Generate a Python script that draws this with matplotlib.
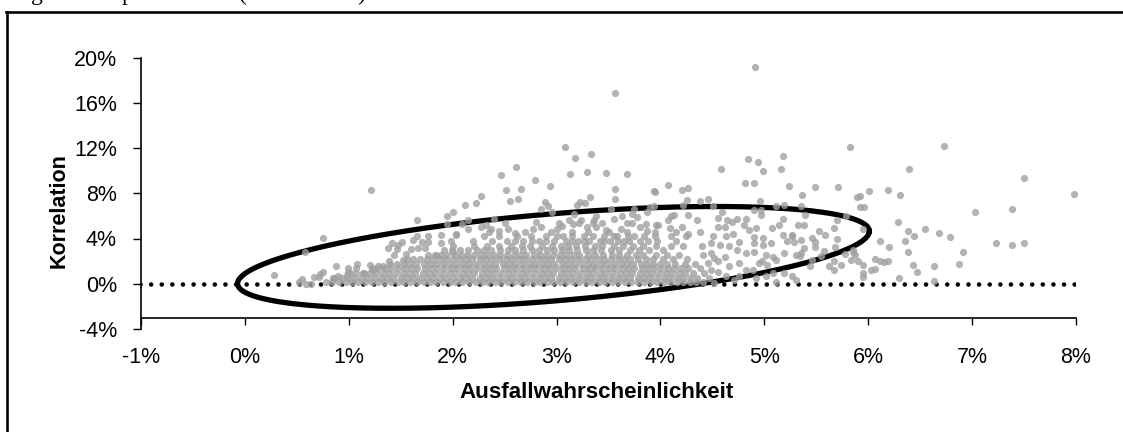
import matplotlib
matplotlib.use("Agg")
import matplotlib.pyplot as plt
import numpy as np

plt.rcParams['font.family'] = ['Liberation Sans', 'DejaVu Sans']

x_ticks = [-1, 0, 1, 2, 3, 4, 5, 6, 7, 8]
y_ticks = [-4, 0, 4, 8, 12, 16, 20]

# single points (percent)
pd_x = [4.91, 3.56, 3.08, 3.18, 3.33, 2.61, 2.47, 2.79, 2.94, 3.13, 3.29, 3.48, 3.68, 4.58, 4.84, 4.94, 5.18, 4.99, 5.16, 4.81,
        4.90, 5.24, 4.07, 4.27, 4.21, 3.94, 3.56, 2.66, 2.51, 1.21, 2.27, 2.22, 2.12, 2.00, 1.95, 2.55, 2.63, 2.89, 2.92, 2.85,
        3.32, 3.27, 3.23, 3.20, 3.56, 3.95, 3.94, 3.90, 3.52, 3.75, 3.17, 2.96, 2.40, 2.15, 2.09, 1.95, 2.80, 2.15, 2.03, 2.27,
        2.32, 2.37, 2.45, 2.53, 2.60, 2.77, 2.85, 3.00, 3.05, 3.12, 3.16, 3.24, 3.36, 3.38, 3.55, 3.63, 3.73, 3.77, 3.87, 3.86,
        3.96, 3.35, 3.29, 3.38, 3.48, 3.62, 3.73, 3.80, 3.87, 5.82, 5.36, 5.49, 5.71, 5.89, 4.46, 4.38, 4.26, 4.22, 4.51, 4.96,
        4.97, 4.90, 4.97, 5.11, 5.19, 5.35, 5.39, 4.59, 4.55, 4.64, 4.69, 4.74, 4.82, 4.35, 4.27, 4.13, 4.07, 4.10, 3.98, 4.09,
        4.21, 4.27, 4.38, 4.51, 4.55, 4.62, 4.63, 4.70, 4.80, 4.85, 4.92, 5.07, 5.14, 5.18, 5.32, 5.38, 5.18, 5.27, 5.22, 5.29,
        5.35, 5.46, 5.53, 5.58, 5.67, 5.70, 5.70, 5.38, 5.49, 5.57, 5.68, 5.78, 5.85, 5.67, 5.74, 5.62, 5.67, 4.90, 4.99, 4.90,
        4.99, 5.06, 4.90, 5.02, 5.08, 4.98, 5.11, 4.95, 5.03, 5.19, 5.30, 5.34, 5.44, 5.19, 5.27, 5.30, 5.08, 5.02, 5.11, 4.89,
        4.76, 4.66, 4.76, 4.57, 4.49, 4.40, 4.76, 4.66, 4.55, 4.74, 4.82, 4.62, 4.52, 4.63, 4.52, 4.71, 4.92, 4.82, 4.41, 4.49,
        4.46, 4.49, 4.55, 6.73, 6.39, 7.50, 7.98, 6.01, 6.19, 6.31, 5.92, 5.92, 5.96, 5.79, 5.95, 6.29, 6.38, 6.55, 6.44, 6.68,
        6.79, 6.11, 6.20, 6.35, 6.38, 6.91, 7.03, 7.38, 7.23, 7.38, 7.50, 6.87, 6.63, 6.43, 6.47, 6.30, 6.63, 6.07, 6.11, 6.15,
        6.19, 6.03, 6.07, 5.95, 5.95, 5.95, 5.83, 5.90, 5.87, 5.85, 5.35, 5.46, 5.55, 5.49, 5.27, 0.28, 0.75, 0.58, 1.66, 1.42,
        1.38, 1.46, 1.51, 1.47, 1.62, 1.66, 1.76, 1.70, 1.76, 1.89, 2.03, 1.98, 1.89, 1.60, 1.67, 1.73, 1.84, 2.00, 1.55, 1.44,
        1.39, 1.52, 0.88, 1.08, 1.20, 0.99, 0.75, 0.99, 1.28, 0.72, 0.67, 0.71, 0.55, 0.52, 0.59, 0.64, 0.85, 0.90, 0.98, 1.07,
        1.15, 1.23, 1.33]
corr_y = [19.18, 16.9, 12.1, 11.1, 11.5, 10.3, 9.65, 9.2, 8.6, 9.7, 9.85, 9.8, 9.7, 10.1, 11.0, 10.75, 11.3, 10.0, 10.1, 8.95,
          8.95, 8.6, 8.7, 8.5, 8.3, 8.2, 8.4, 8.4, 8.3, 8.3, 7.77, 7.15, 7.0, 6.3, 6.0, 7.3, 7.5, 7.2, 6.9, 6.6,
          7.65, 7.15, 7.2, 7.0, 7.5, 8.1, 6.9, 6.75, 6.65, 6.65, 6.2, 6.3, 5.75, 5.6, 5.3, 5.25, 5.45, 4.85, 4.4, 5.0,
          5.2, 4.85, 4.65, 4.85, 4.5, 4.8, 5.0, 4.8, 5.1, 5.6, 5.3, 5.65, 5.65, 6.0, 5.7, 6.0, 6.2, 5.9, 6.3, 5.3,
          5.2, 5.35, 5.0, 5.0, 4.77, 4.8, 5.35, 5.0, 4.7, 12.05, 7.85, 8.55, 8.55, 7.7, 7.47, 7.3, 7.4, 7.0, 6.85, 7.3,
          6.5, 6.5, 6.05, 6.85, 7.0, 6.9, 6.05, 6.3, 5.8, 5.67, 5.5, 5.7, 5.7, 5.6, 6.1, 6.05, 5.65, 5.95, 5.2, 4.9,
          5.05, 4.4, 4.6, 4.25, 5.05, 5.0, 4.2, 4.4, 5.15, 4.77, 4.9, 4.97, 5.2, 5.7, 5.2, 5.2, 4.3, 4.3, 3.8, 3.73,
          3.9, 4.03, 4.67, 4.3, 4.97, 5.6, 3.95, 3.2, 3.23, 2.93, 3.23, 2.65, 2.77, 1.97, 1.68, 1.53, 1.23, 4.17, 4.03, 3.6,
          3.43, 3.6, 2.85, 2.55, 2.4, 1.97, 2.1, 1.82, 1.67, 2.76, 2.55, 2.47, 1.53, 0.94, 0.65, 0.35, 0.94, 0.65, 0.12, 1.23,
          0.65, 3.3, 3.73, 3.43, 3.6, 3.3, 1.85, 1.53, 1.97, 3.0, 2.7, 2.4, 2.27, 0.65, 0.05, 0.35, 0.5, 1.23, 2.55, 2.7,
          1.82, 1.23, 1.08, 12.15, 10.1, 9.33, 7.94, 8.23, 8.32, 7.85, 7.8, 6.82, 6.77, 6.0, 4.83, 5.45, 4.65, 4.8, 4.18, 4.5,
          4.12, 3.8, 3.27, 3.8, 2.8, 2.8, 6.3, 6.6, 3.56, 3.41, 3.56, 1.77, 1.53, 1.62, 1.06, 0.53, 0.2, 2.18, 2.0, 1.94,
          2.0, 1.2, 1.3, 1.62, 0.94, 0.56, 2.12, 2.0, 2.56, 2.94, 2.7, 2.12, 2.47, 3.65, 4.18, 0.73, 4.03, 2.82, 5.6, 3.6,
          3.2, 3.06, 3.73, 3.44, 3.88, 4.24, 4.18, 3.73, 3.65, 4.35, 4.32, 3.82, 3.6, 3.09, 3.14, 3.14, 2.56, 2.85, 2.62, 2.5,
          1.97, 2.12, 1.6, 1.76, 1.68, 1.39, 1.08, 1.0, 1.53, 0.88, 0.59, 0.59, 0.44, 0.15, 0.0, 0.0, 0.5, 0.7, 0.8, 1.39,
          0.94, 1.24, 1.53]

# the solid part of the cloud, read as bands of correlation
band_y = [0.15, 0.55, 0.95, 1.35, 1.75, 2.15, 2.55, 2.95, 3.35, 3.75, 4.2, 4.6, 5.4]
band_x = [
    [0.78, 0.84, 0.91, 0.97, 1.03, 1.09, 1.16, 1.22, 1.28, 1.34, 1.41, 1.47, 1.53, 1.59, 1.66, 1.72, 1.78, 1.84, 1.91, 1.97, 2.03, 2.09, 2.16, 2.22, 2.28, 2.34, 2.41, 2.47, 2.53, 2.59, 2.66, 2.72, 2.78, 2.84, 2.91, 2.97, 3.03, 3.09, 3.16, 3.22, 3.28, 3.34, 3.41, 3.47, 3.53, 3.59, 3.66, 3.72, 3.78, 3.84, 3.91, 3.97, 4.03, 4.09, 4.16, 4.22, 4.28, 4.34, 4.41],
    [0.86, 0.93, 0.99, 1.05, 1.12, 1.18, 1.24, 1.31, 1.37, 1.43, 1.5, 1.56, 1.62, 1.69, 1.75, 1.81, 1.88, 1.94, 2.0, 2.07, 2.13, 2.19, 2.26, 2.32, 2.38, 2.45, 2.51, 2.57, 2.64, 2.7, 2.76, 2.83, 2.89, 2.95, 3.02, 3.08, 3.14, 3.21, 3.27, 3.33, 3.4, 3.46, 3.52, 3.59, 3.65, 3.71, 3.78, 3.84, 3.9, 3.97, 4.03, 4.09, 4.16, 4.22, 4.28, 4.35, 4.47],
    [1.01, 1.07, 1.14, 1.2, 1.26, 1.33, 1.39, 1.45, 1.52, 1.58, 1.64, 1.71, 1.77, 1.83, 1.9, 1.96, 2.02, 2.09, 2.15, 2.21, 2.28, 2.34, 2.4, 2.47, 2.53, 2.59, 2.66, 2.72, 2.78, 2.85, 2.91, 2.97, 3.04, 3.1, 3.16, 3.23, 3.29, 3.35, 3.42, 3.48, 3.54, 3.61, 3.67, 3.73, 3.8, 3.86, 3.92, 3.99, 4.05, 4.11, 4.18, 4.24, 4.31, 4.42],
    [1.22, 1.28, 1.35, 1.41, 1.47, 1.54, 1.6, 1.66, 1.73, 1.79, 1.85, 1.92, 1.98, 2.04, 2.11, 2.17, 2.23, 2.3, 2.36, 2.42, 2.49, 2.55, 2.61, 2.68, 2.74, 2.8, 2.87, 2.93, 2.99, 3.06, 3.12, 3.18, 3.25, 3.31, 3.37, 3.44, 3.5, 3.56, 3.63, 3.69, 3.75, 3.82, 3.88, 3.94, 4.01, 4.07, 4.13, 4.2, 4.27, 4.38],
    [1.4, 1.46, 1.53, 1.59, 1.65, 1.72, 1.78, 1.84, 1.91, 1.97, 2.03, 2.1, 2.16, 2.22, 2.29, 2.35, 2.41, 2.48, 2.54, 2.6, 2.67, 2.73, 2.79, 2.86, 2.92, 2.98, 3.05, 3.11, 3.17, 3.24, 3.3, 3.36, 3.43, 3.49, 3.55, 3.62, 3.68, 3.74, 3.81, 3.87, 3.93, 4.0, 4.06, 4.14, 4.24, 4.33],
    [1.56, 1.62, 1.69, 1.75, 1.81, 1.88, 1.94, 2.0, 2.07, 2.13, 2.19, 2.26, 2.32, 2.38, 2.45, 2.51, 2.57, 2.64, 2.7, 2.76, 2.83, 2.89, 2.95, 3.02, 3.08, 3.14, 3.21, 3.27, 3.33, 3.4, 3.46, 3.52, 3.59, 3.65, 3.71, 3.78, 3.86, 3.93, 4.02, 4.12, 4.26],
    [1.76, 1.83, 1.89, 1.95, 2.02, 2.08, 2.14, 2.21, 2.27, 2.33, 2.4, 2.46, 2.52, 2.59, 2.65, 2.71, 2.78, 2.84, 2.9, 2.97, 3.03, 3.09, 3.16, 3.22, 3.3, 3.37, 3.45, 3.53, 3.6, 3.68, 3.76, 3.83, 3.96, 4.06, 4.18],
    [1.92, 1.99, 2.07, 2.15, 2.23, 2.3, 2.37, 2.46, 2.53, 2.6, 2.68, 2.76, 2.83, 2.91, 2.98, 3.05, 3.12, 3.2, 3.28, 3.35, 3.43, 3.52, 3.6, 3.71, 3.79, 3.89, 4.02],
    [2.0, 2.21, 2.33, 2.45, 2.56, 2.67, 2.74, 2.86, 2.96, 3.04, 3.11, 3.19, 3.27, 3.37, 3.44, 3.55, 3.64, 3.74, 3.83, 3.96, 4.1, 4.22],
    [2.2, 2.38, 2.52, 2.6, 2.68, 2.76, 2.83, 2.9, 2.98, 3.09, 3.15, 3.21, 3.26, 3.31, 3.42, 3.46, 3.51, 3.59, 3.65, 3.7, 3.8, 3.88, 3.97, 4.15],
    [2.3, 2.45, 2.62, 2.75, 2.9, 3.0, 3.06, 3.15, 3.26, 3.35, 3.46, 3.55, 3.58, 3.69, 3.75, 3.84, 3.95, 4.1, 4.25],
    [2.35, 2.7, 2.95, 3.15, 3.3, 3.5, 3.68, 3.95, 4.15],
    [2.5, 3.02, 3.22, 3.44, 3.68],
]

# outline of the drawn ellipse: centre, half width, shear and half thickness in percent
ell_cx, ell_cy = 2.97, 2.33
ell_a, ell_k, ell_b = 3.04, 0.76, 3.86

dense_x = [v for row in band_x for v in row]
dense_y = [band_y[i] for i, row in enumerate(band_x) for v in row]

fig = plt.figure(figsize=(11.23, 4.32), dpi=100)
ax = fig.add_axes([141 / 1123, 1 - 329 / 432, (1076 - 141) / 1123, (329 - 57.5) / 432])
ax.set_xlim(-1, 8)
ax.set_ylim(-4, 20)

ax.plot([-1.005, 8], [0, 0], color='black', lw=3.3, linestyle=(0, (0.01, 2.306)), dash_capstyle='round', zorder=2)
t = np.linspace(0, 2 * np.pi, 300)
ax.plot(ell_cx + ell_a * np.cos(t), ell_cy + ell_k * ell_a * np.cos(t) + ell_b * np.sin(t),
        color='black', lw=3.8, zorder=3)
ax.scatter(dense_x + pd_x, dense_y + corr_y, s=27, color='#a0a0a0', alpha=0.8, linewidths=0, zorder=4, clip_on=False)

for side in ['top', 'right']:
    ax.spines[side].set_visible(False)
ax.spines['bottom'].set_position(('data', -3.06))
ax.spines['bottom'].set_linewidth(1.2)
ax.spines['left'].set_linewidth(1.2)

ax.set_xticks(x_ticks)
ax.set_xticklabels([f"{v}%" for v in x_ticks])
ax.set_yticks(y_ticks)
ax.set_yticklabels([f"{v}%" for v in y_ticks])
ax.tick_params(axis='x', length=4.8, width=1.0, pad=16, labelsize=15.5)
ax.tick_params(axis='y', length=5.8, width=1.0, pad=11.5, labelsize=15.5)

fig.text(597 / 1123, 1 - 392 / 432, "Ausfallwahrscheinlichkeit", fontsize=16.1, fontweight='bold', ha='center', va='center')
fig.text(59 / 1123, 1 - 211 / 432, "Korrelation", fontsize=15.5, fontweight='bold', rotation=90, ha='center', va='center')

# line of text above the frame is cut by the top of the screenshot, only descenders remain
for glyph, px in [("g", 37), ("p", 127), ("(", 243), (")", 361)]:
    fig.text(px / 1123, 1.0, glyph, family='Liberation Serif', fontsize=17, ha='center', va='baseline')

# frame around the chart, cut off at the bottom and right like the screenshot
fig.add_artist(plt.Line2D([7 / 1123, 7 / 1123], [0, 1 - 12 / 432], color='black', lw=1.9))
fig.add_artist(plt.Line2D([6 / 1123, 1], [1 - 12 / 432, 1 - 12 / 432], color='black', lw=1.9))

fig.savefig("out.png", dpi=100)
plt.close(fig)
